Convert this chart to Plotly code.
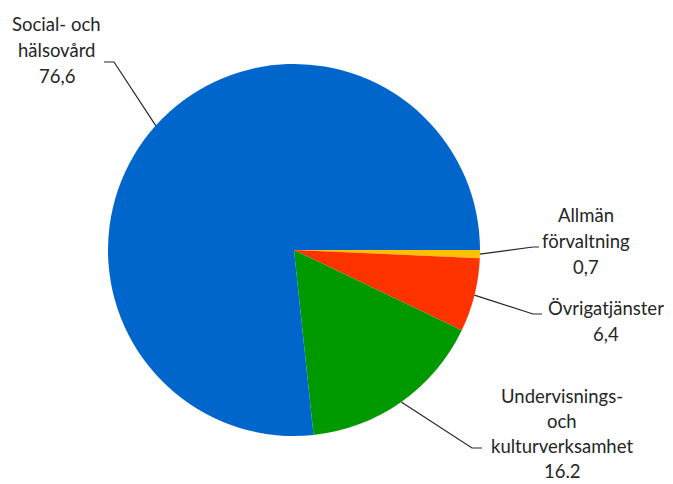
import math
import plotly.graph_objects as go

# ---- data ----
categories = ["Allmän förvaltning", "Övrigatjänster", "Undervisnings- och kulturverksamhet", "Social- och hälsovård"]
values = [0.7, 6.4, 16.2, 76.6]
label_lines = [["Allmän", "förvaltning"], ["Övrigatjänster"], ["Undervisnings-", "och", "kulturverksamhet"], ["Social- och", "hälsovård"]]
value_labels = ["0,7", "6,4", "16.2", "76,6"]
colors = ["#FFC000", "#FF3300", "#009900", "#0066CC"]

OX, OY = 8, 8          # page body margin
W, H = 673 - OX, 484 - OY
CX, CY, R = 294, 250, 186  # pie centre / radius in window px (layout)

# label layout (window px): text centre x, first line y, line spacing, elbow point, line end
label_pos = [
    dict(tx=586, ty=215, lh=26, elbow=(533, 247), end=(539, 247)),
    dict(tx=606, ty=308, lh=26, elbow=(533, 314), end=(542, 314)),
    dict(tx=562, ty=396, lh=25, elbow=(472, 448), end=(482, 448)),
    dict(tx=57, ty=24, lh=26, elbow=(114, 62), end=(104, 62)),
]

def px(x):
    return (x - OX) / W

def py(y):
    return 1 - (y - OY) / H

fig = go.Figure(go.Pie(
    labels=categories,
    values=values,
    marker=dict(colors=colors, line=dict(width=0)),
    sort=False,
    direction="clockwise",
    rotation=90,
    textinfo="none",
    hoverinfo="label+value",
    domain=dict(x=[px(CX - R), px(CX + R)], y=[py(CY + R), py(CY - R)]),
    showlegend=False,
))

total = sum(values)
annotations = []
shapes = []
cum = 0.0
for i, v in enumerate(values):
    mid = (cum + v / 2) / total * 2 * math.pi
    cum += v
    sx = CX + R * math.cos(mid)
    sy = CY + R * math.sin(mid)
    lp = label_pos[i]
    ex, ey = lp["elbow"]
    fx, fy = lp["end"]
    shapes.append(dict(
        type="path", xref="paper", yref="paper",
        path=f"M {px(sx)} {py(sy)} L {px(ex)} {py(ey)} L {px(fx)} {py(fy)}",
        line=dict(color="#262626", width=1.2),
    ))
    lines = label_lines[i] + [value_labels[i]]
    for k, t in enumerate(lines):
        annotations.append(dict(
            text=t, x=px(lp["tx"]), y=py(lp["ty"] + k * lp["lh"]),
            xref="paper", yref="paper", xanchor="center", yanchor="middle",
            showarrow=False, font=dict(family="Lato", size=18.5, color="#262626"),
        ))

fig.update_layout(
    width=W, height=H,
    margin=dict(l=0, r=0, t=0, b=0),
    paper_bgcolor="white",
    annotations=annotations,
    shapes=shapes,
)
fig.write_html("out.html")
